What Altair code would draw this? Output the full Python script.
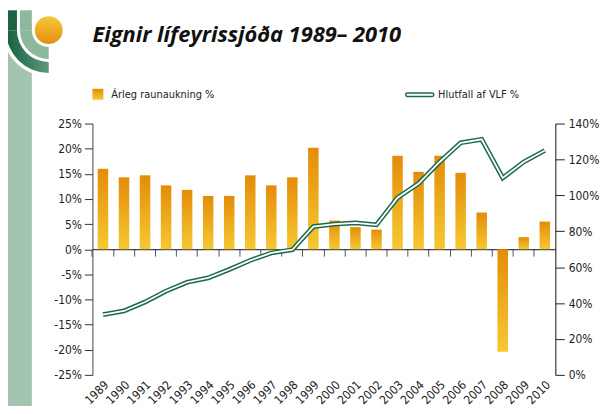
import altair as alt
import pandas as pd
import math

years = [str(y) for y in range(1989, 2011)]
raunaukning = [16.0, 14.3, 14.7, 12.7, 11.8, 10.6, 10.6, 14.7, 12.7, 14.3, 20.2,
               5.7, 4.4, 3.9, 18.6, 15.4, 18.6, 15.2, 7.3, -20.4, 2.4, 5.5]
hlutfall_vlf = [33.6, 35.6, 40.6, 46.7, 51.6, 54.0, 58.7, 63.8, 67.9, 69.7, 82.6,
                84.0, 84.7, 83.6, 98.7, 106.6, 118.6, 129.3, 131.2, 109.7, 118.6, 125.0]
left_ticks = list(range(-25, 30, 5))
right_ticks = list(range(0, 160, 20))
title_text = "Eignir lífeyrissjóða 1989– 2010"
legend_bar_text = "Árleg raunaukning  %"
legend_line_text = "Hlutfall af VLF %"

df = pd.DataFrame({"ar": years, "raun": raunaukning, "vlf": hlutfall_vlf})

FONT = "Liberation Sans Narrow, DejaVu Sans Condensed, Roboto, sans-serif"
W, H = 466, 253

bar_grad = alt.Gradient(gradient="linear",
                        stops=[alt.GradientStop(color="#e48c08", offset=0),
                               alt.GradientStop(color="#f6c832", offset=1)],
                        x1=0, x2=0, y1=0, y2=1)

bars = alt.Chart(df).mark_bar(color=bar_grad).encode(
    x=alt.X("ar:O", sort=years,
            scale=alt.Scale(type="band", paddingInner=0.5, paddingOuter=0.25),
            axis=alt.Axis(title=None, orient="bottom", labelAngle=-45, domain=False,
                          ticks=False, labelPadding=4, labelFont=FONT, labelFontSize=12,
                          labelColor="#222", grid=False)),
    y=alt.Y("raun:Q", scale=alt.Scale(domain=[-25, 25], nice=False),
            axis=alt.Axis(title=None, orient="left", values=left_ticks,
                          labelExpr="datum.value + '%'", grid=False,
                          domainColor="#444", tickColor="#333", tickSize=8,
                          labelPadding=3, labelFont=FONT, labelFontSize=12,
                          labelColor="#222")),
)

one = pd.DataFrame({"k": [0]})

def deco_rect(x, x2, y, y2, color):
    return alt.Chart(one).mark_rect(color=color).encode(
        x=alt.value(x), x2=alt.value(x2), y=alt.value(y), y2=alt.value(y2))

def deco_arc(r, r2, t1, t2, color):
    return alt.Chart(one).mark_arc(radius=r, radius2=r2, theta=t1, theta2=t2,
                                   color=color).encode(
        x=alt.value(-44), y=alt.value(-94))

dark_grad = alt.Gradient(gradient="linear",
                         stops=[alt.GradientStop(color="#16603f", offset=0),
                                alt.GradientStop(color="#5c9a7d", offset=1)],
                         x1=0, x2=1, y1=0, y2=0)
circ_grad = alt.Gradient(gradient="linear",
                         stops=[alt.GradientStop(color="#f5c83a", offset=0),
                                alt.GradientStop(color="#e58f10", offset=1)],
                         x1=0, x2=0, y1=0, y2=1)

logo = [
    deco_rect(-87, -61, -94, 300, "#a3c5af"),
    deco_arc(46.5, 0, math.pi, 1.5 * math.pi, "white"),
    deco_rect(-87, -76, -114, -94, "#1a6444"),
    deco_arc(43, 32, math.pi, 1.5 * math.pi, dark_grad),
    deco_rect(-73, -61, -114, -94, "#8cb99d"),
    deco_arc(29, 17, math.pi, 1.5 * math.pi, "#8cb99d"),
    deco_arc(14, 0, 0, 2 * math.pi, circ_grad),
]

title = alt.Chart(one).mark_text(text=title_text, align="left", baseline="alphabetic",
                                 font="Open Sans", fontSize=22, fontWeight="bold",
                                 fontStyle="italic", color="#111").encode(
    x=alt.value(0), y=alt.value(-82))

legend_bar = [
    deco_rect(0, 11, -35, -24, bar_grad),
    alt.Chart(one).mark_text(text=legend_bar_text, align="left", baseline="middle",
                             font=FONT, fontSize=11, color="#222").encode(
        x=alt.value(19), y=alt.value(-29)),
]
legend_line = [
    alt.Chart(one).mark_rule(color="#1c6a4a", strokeWidth=4.8, strokeCap="round").encode(
        x=alt.value(317), x2=alt.value(342), y=alt.value(-29)),
    alt.Chart(one).mark_rule(color="white", strokeWidth=1.8, strokeCap="round").encode(
        x=alt.value(317), x2=alt.value(342), y=alt.value(-29)),
    alt.Chart(one).mark_text(text=legend_line_text, align="left", baseline="middle",
                             font=FONT, fontSize=11, color="#222").encode(
        x=alt.value(348), y=alt.value(-29)),
]

left_part = alt.layer(bars, *logo, title, *legend_bar, *legend_line)

xline = alt.X("ar:O", sort=years,
              scale=alt.Scale(type="band", paddingInner=0, paddingOuter=0),
              axis=alt.Axis(title=None, orient="bottom", offset=-126.5, labels=False,
                            bandPosition=0, tickSize=7, tickColor="#555",
                            domainColor="#111", domainWidth=1, grid=False))
yline = alt.Y("vlf:Q", scale=alt.Scale(domain=[0, 140], nice=False),
              axis=alt.Axis(title=None, orient="right", values=right_ticks,
                            labelExpr="datum.value + '%'", grid=False,
                            domainColor="#111", tickColor="#222", tickSize=9,
                            labelPadding=4, labelFont=FONT, labelFontSize=12,
                            labelColor="#222"))

outer = alt.Chart(df).mark_line(color="#1c6a4a", strokeWidth=4.8, strokeJoin="miter").encode(
    x=xline, y=yline)
inner = alt.Chart(df).mark_line(color="white", strokeWidth=1.8, strokeJoin="miter").encode(
    x=xline, y=yline)
line_part = alt.layer(outer, inner)

chart = alt.layer(left_part, line_part).resolve_scale(
    x="independent", y="independent"
).properties(
    width=W, height=H,
    autosize=alt.AutoSizeParams(type="none"),
    padding={"left": 85, "top": 115, "right": 50, "bottom": 30},
).configure_view(stroke=None)

chart.save("out.html", embed_options={"renderer": "svg", "actions": False})
